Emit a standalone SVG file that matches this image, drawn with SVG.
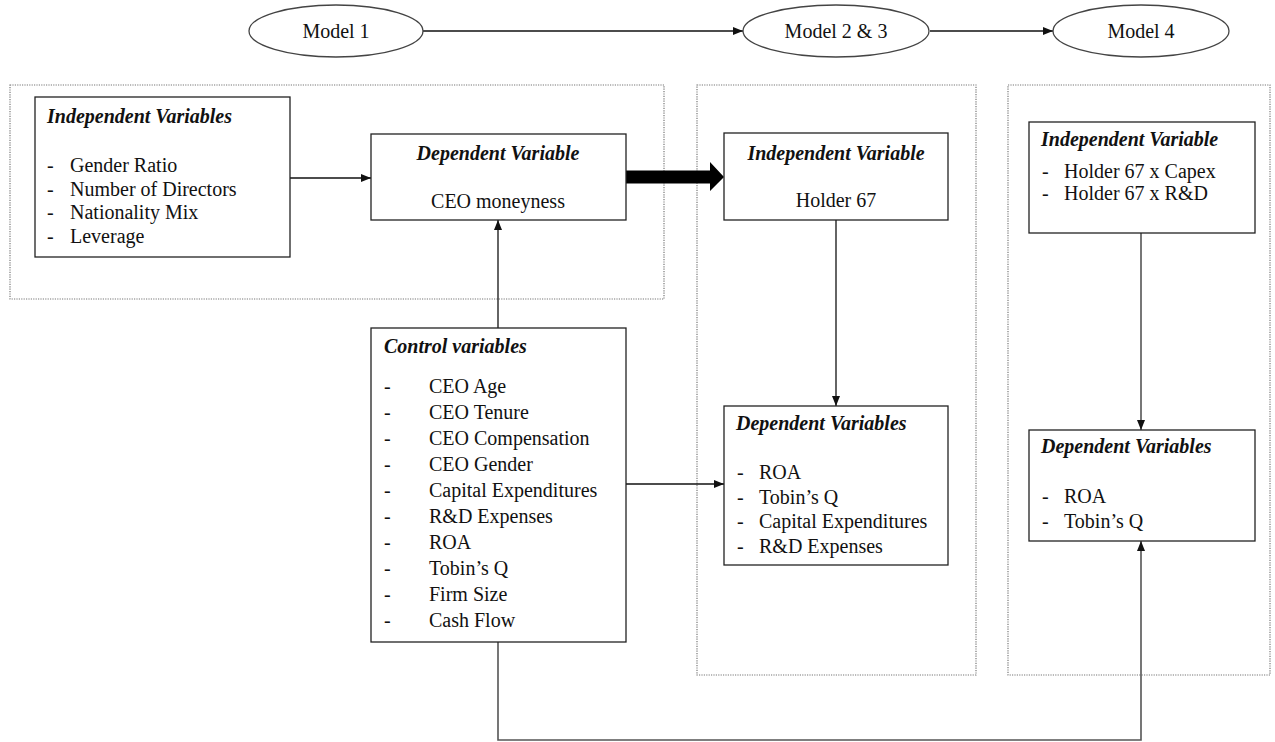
<svg xmlns="http://www.w3.org/2000/svg" width="1275" height="742" viewBox="0 0 1275 742">
<defs>
<style>
text{font-family:"Liberation Serif","Times New Roman",serif;font-size:20px;fill:#111}
.t{font-weight:bold;font-style:italic}
.box{fill:#fff;stroke:#222;stroke-width:1.3}
.dot{fill:none;stroke:#777;stroke-width:1.2;stroke-dasharray:1.2 1.2}
.ell{fill:#fff;stroke:#444;stroke-width:1.3}
.ln{fill:none;stroke:#111;stroke-width:1.3}
.lg{fill:none;stroke:#555;stroke-width:1.6}
</style>
<marker id="ah" viewBox="0 0 10 10" refX="10" refY="5" markerWidth="10" markerHeight="10" markerUnits="userSpaceOnUse" orient="auto">
<path d="M0,1 L10,5 L0,9 z" fill="#111"/>
</marker>
</defs>
<rect width="1275" height="742" fill="#fff"/>
<g id="frames">
<rect class="dot" x="10" y="85" width="654" height="214"/>
<rect class="dot" x="697" y="85" width="279" height="590"/>
<rect class="dot" x="1008" y="85" width="262" height="590"/>
</g>
<g id="connectors">
<line class="ln" x1="423" y1="31" x2="743" y2="31" marker-end="url(#ah)"/>
<line class="ln" x1="930" y1="31" x2="1053" y2="31" marker-end="url(#ah)"/>
<line class="ln" x1="290" y1="178" x2="371" y2="178" marker-end="url(#ah)"/>
<path d="M626,170.5 H710 V162 L724,177 L710,191 V183.5 H626 z" fill="#000"/>
<line class="ln" x1="498" y1="328" x2="498" y2="220" marker-end="url(#ah)"/>
<line class="ln" x1="836" y1="220" x2="836" y2="406" marker-end="url(#ah)"/>
<line class="ln" x1="626" y1="484" x2="724" y2="484" marker-end="url(#ah)"/>
<line class="lg" x1="1141" y1="233" x2="1141" y2="430" marker-end="url(#ah)"/>
<polyline class="lg" points="498,642 498,740 1141,740 1141,541" marker-end="url(#ah)"/>
</g>
<g id="model1">
<ellipse class="ell" cx="336" cy="31" rx="87" ry="26"/>
<text x="336" y="38" text-anchor="middle">Model 1</text>
</g>
<g id="model23">
<ellipse class="ell" cx="836" cy="31" rx="93" ry="26"/>
<text x="836" y="38" text-anchor="middle">Model 2 &amp; 3</text>
</g>
<g id="model4">
<ellipse class="ell" cx="1141" cy="31" rx="88" ry="26"/>
<text x="1141" y="38" text-anchor="middle">Model 4</text>
</g>
<g id="indep1">
<rect class="box" x="35" y="97" width="255" height="160"/>
<text class="t" x="47" y="123">Independent Variables</text>
<text x="47" y="172">-</text><text x="70" y="172">Gender Ratio</text>
<text x="47" y="195.5">-</text><text x="70" y="195.5">Number of Directors</text>
<text x="47" y="219">-</text><text x="70" y="219">Nationality Mix</text>
<text x="47" y="242.5">-</text><text x="70" y="242.5">Leverage</text>
</g>
<g id="dep1">
<rect class="box" x="371" y="134" width="255" height="86"/>
<text class="t" x="498" y="160" text-anchor="middle">Dependent Variable</text>
<text x="498" y="208" text-anchor="middle">CEO moneyness</text>
</g>
<g id="control">
<rect class="box" x="371" y="328" width="255" height="314"/>
<text class="t" x="384" y="353">Control variables</text>
<g>
<text x="384" y="393">-</text><text x="429" y="393">CEO Age</text>
<text x="384" y="419">-</text><text x="429" y="419">CEO Tenure</text>
<text x="384" y="445">-</text><text x="429" y="445">CEO Compensation</text>
<text x="384" y="471">-</text><text x="429" y="471">CEO Gender</text>
<text x="384" y="497">-</text><text x="429" y="497">Capital Expenditures</text>
<text x="384" y="523">-</text><text x="429" y="523">R&amp;D Expenses</text>
<text x="384" y="549">-</text><text x="429" y="549">ROA</text>
<text x="384" y="575">-</text><text x="429" y="575">Tobin’s Q</text>
<text x="384" y="601">-</text><text x="429" y="601">Firm Size</text>
<text x="384" y="627">-</text><text x="429" y="627">Cash Flow</text>
</g>
</g>
<g id="holder">
<rect class="box" x="724" y="133" width="224" height="87"/>
<text class="t" x="836" y="160" text-anchor="middle">Independent Variable</text>
<text x="836" y="207" text-anchor="middle">Holder 67</text>
</g>
<g id="dep2">
<rect class="box" x="724" y="406" width="224" height="159"/>
<text class="t" x="736" y="430">Dependent Variables</text>
<text x="737" y="479">-</text><text x="759" y="479">ROA</text>
<text x="737" y="503.5">-</text><text x="759" y="503.5">Tobin’s Q</text>
<text x="737" y="528">-</text><text x="759" y="528">Capital Expenditures</text>
<text x="737" y="552.5">-</text><text x="759" y="552.5">R&amp;D Expenses</text>
</g>
<g id="indep3">
<rect class="box" x="1029" y="122" width="226" height="111"/>
<text class="t" x="1041" y="146">Independent Variable</text>
<text x="1042" y="178">-</text><text x="1064" y="178">Holder 67 x Capex</text>
<text x="1042" y="200">-</text><text x="1064" y="200">Holder 67 x R&amp;D</text>
</g>
<g id="dep4">
<rect class="box" x="1029" y="430" width="226" height="111"/>
<text class="t" x="1041" y="453">Dependent Variables</text>
<text x="1042" y="503">-</text><text x="1064" y="503">ROA</text>
<text x="1042" y="528">-</text><text x="1064" y="528">Tobin’s Q</text>
</g>
</svg>
